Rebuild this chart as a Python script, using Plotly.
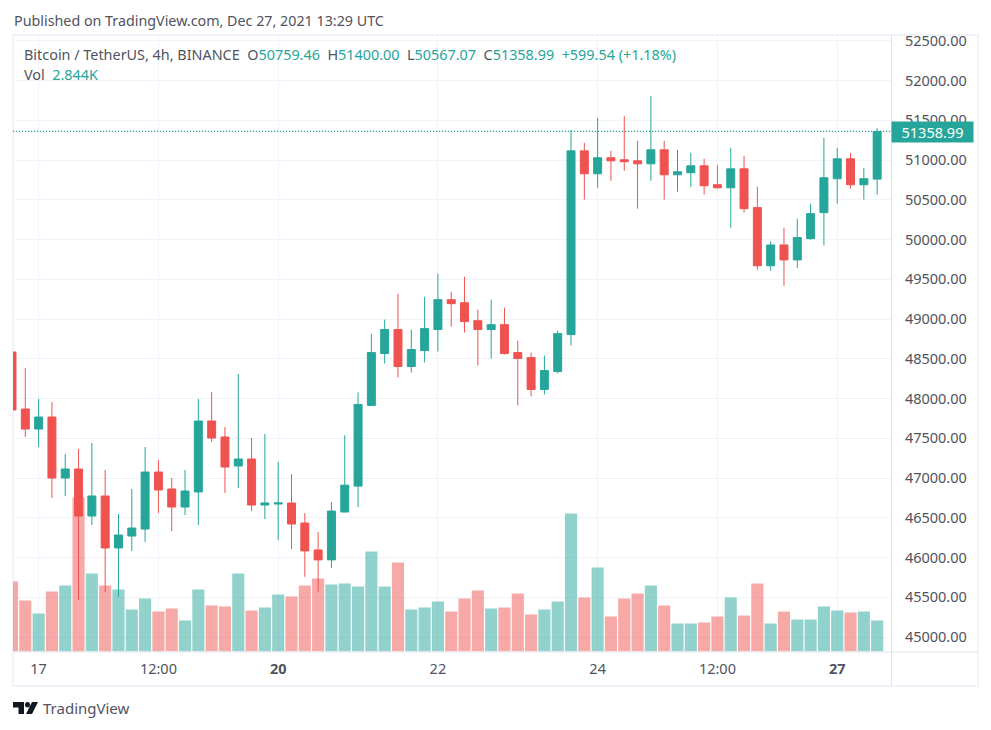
import plotly.graph_objects as go

W, H = 991, 730
L, R, T, B = 13, 891, 35, 651.5

idx = list(range(66))
opens = [48585,47868,47616,47767,47000,47113,46522,46774,46120,46270,46358,47075,46862,46635,46824,47717,47516,47151,47239,46660,46673,46685,
         46434,46095,45970,46572,46898,47913,48566,48867,48403,48603,48867,49243,49205,48979,48867,48929,48578,48515,48114,48340,
         48804,51115,50827,51028,51003,50990,50952,51128,50814,50840,50927,50689,50651,50889,50401,49670,49931,49743,50011,50338,50764,51015,50689,50759.46]
highs = [48585,48384,47994,47956,47302,47365,47440,47101,46547,46862,47390,47226,47000,47101,47994,48082,47642,48308,47503,47554,47201,47048,
         46559,46321,46697,47537,48076,48816,48992,49318,48867,49280,49569,49343,49531,49117,49243,49142,48729,48578,48540,48854,
         51379,51216,51529,51115,51554,51241,51805,51241,51128,51090,51015,50940,51153,51053,50664,49978,50149,50262,50451,51278,51153,51090,50902,51400]
lows = [47855,47516,47390,46748,46774,45465,46409,45566,45503,46082,46195,46560,46333,46535,46409,47453,46811,46874,46585,46484,46220,46108,
        45757,45568,45869,46572,46634,47913,48440,48265,48327,48453,48591,48904,48829,48415,48503,48553,47913,48026,48051,48315,
        48666,50501,50651,50739,50865,50388,50739,50501,50601,50664,50564,50639,50149,50338,49619,49606,49417,49643,49998,49924,50451,50639,50501,50567.07]
closes = [47855,47616,47767,47000,47113,46522,46774,46120,46283,46371,47075,46849,46635,46836,47717,47503,47138,47239,46660,46686,46686,46421,
          46083,45970,46584,46910,47926,48578,48867,48403,48616,48879,49243,49193,48967,48867,48929,48566,48503,48114,48352,48816,
          51115,50827,51028,50990,50978,50952,51128,50814,50852,50927,50676,50651,50889,50388,49670,49931,49743,50024,50325,50777,51015,50689,50764,51358.99]
volumes = [6422,4679,3486,5504,6055,14128,7156,6055,5688,3853,4862,3670,3945,2844,5688,4220,4128,7156,3761,4037,5229,5046,
           6055,6697,6147,6238,5963,9174,5963,8165,3853,4037,4587,3670,4862,5596,3945,4037,5321,3394,3853,4587,
           12660,4954,7706,3211,4862,5321,6055,4220,2569,2569,2660,3211,4954,3303,6238,2569,3670,2936,2936,4128,3761,3578,3670,2844]

tick_idx = [2, 11, 20, 32, 44, 53, 62]
tick_txt = ["17", "12:00", "<b>20</b>", "22", "24", "12:00", "<b>27</b>"]
price_ticks = [45000 + 500 * k for k in range(16)]
last_price = closes[-1]

UP, DOWN = "#26a69a", "#ef5350"
TEXT = "#131722"
GRID = "#f0f3fa"
BORDER = "#e0e3eb"
FONT = "Noto Sans"

px = lambda x: x / W
py = lambda y: 1 - y / H

vol_colors = ["rgba(38,166,154,0.5)" if c >= o else "rgba(239,83,80,0.5)" for o, c in zip(opens, closes)]

fig = go.Figure()
fig.add_bar(x=idx, y=volumes, marker=dict(color=vol_colors, line=dict(width=0)), yaxis="y", hoverinfo="skip")
fig.add_candlestick(x=idx, open=opens, high=highs, low=lows, close=closes, yaxis="y2",
                    increasing=dict(line=dict(color=UP, width=1), fillcolor=UP),
                    decreasing=dict(line=dict(color=DOWN, width=1), fillcolor=DOWN),
                    whiskerwidth=0)

def y_to_price(y):
    return 45000 + (637 - y) / 0.0795

def logo_path(points):
    return "M " + " L ".join(f"{px(a):.5f} {py(b):.5f}" for a, b in points) + " Z"

shapes = [
    dict(type="rect", xref="paper", yref="paper", x0=px(13), x1=px(978), y0=py(35), y1=py(686),
         line=dict(color=GRID, width=2), layer="below"),
    dict(type="line", xref="paper", yref="paper", x0=px(891.5), x1=px(891.5), y0=py(35), y1=py(686),
         line=dict(color=BORDER, width=1)),
    dict(type="line", xref="paper", yref="paper", x0=px(13), x1=px(978), y0=py(652), y1=py(652),
         line=dict(color=BORDER, width=1)),
    dict(type="line", xref="paper", yref="y2", x0=px(13), x1=px(891), y0=last_price, y1=last_price,
         line=dict(color=UP, width=1.2, dash="1.2px,1.8px")),
    dict(type="path", xref="paper", yref="paper", path=logo_path([(13,702),(24,702),(24,714),(18.5,714),(18.5,707.5),(13,707.5)]),
         fillcolor=TEXT, line=dict(width=0)),
    dict(type="path", xref="paper", yref="paper", path=logo_path([(32,702),(38,702),(32,714),(26,714)]),
         fillcolor=TEXT, line=dict(width=0)),
    dict(type="circle", xref="paper", yref="paper", x0=px(25), x1=px(30), y0=py(702), y1=py(707.5),
         fillcolor=TEXT, line=dict(width=0)),
]

def sp(t):
    return f'<span style="color:{UP}">{t}</span>'

ann = [
    dict(text="Published on TradingView.com, Dec 27, 2021 13:29 UTC", x=px(13), y=py(20),
         font=dict(size=14.3, color="#50535e")),
    dict(text="Bitcoin / TetherUS, 4h, BINANCE  O" + sp("50759.46") + "  H" + sp("51400.00") + "  L" + sp("50567.07")
              + "  C" + sp("51358.99") + "  " + sp("+599.54 (+1.18%)"), x=px(23), y=py(54),
         font=dict(size=14.4, color="#50535e")),
    dict(text="Vol  " + sp("2.844K"), x=px(23), y=py(75), font=dict(size=14.4, color="#50535e")),
    dict(text="TradingView", x=px(42), y=py(708), font=dict(size=15, color="#50535e")),
    dict(text="51358.99", x=px(891), y=py(132.5), font=dict(size=14.5, color="#ffffff"),
         bgcolor=UP, width=81, height=20, align="center"),
]
for a in ann:
    a.update(xref="paper", yref="paper", xanchor="left", yanchor="middle", showarrow=False)
    a.setdefault("borderpad", 0)

fig.update_layout(
    width=W, height=H, autosize=False, showlegend=False,
    paper_bgcolor="#ffffff", plot_bgcolor="#ffffff",
    margin=dict(l=0, r=0, t=0, b=0, autoexpand=False), boxgap=0.4, boxgroupgap=0, bargap=0.09,
    font=dict(family=FONT, size=14.5, color="#50535e"),
    shapes=shapes, annotations=ann,
    xaxis=dict(domain=[px(L), px(R)], range=[(L - 12) / 13.31, (R - 12) / 13.31],
               tickmode="array", tickvals=tick_idx, ticktext=tick_txt,
               showgrid=True, gridcolor=GRID, gridwidth=1, zeroline=False,
               ticks="outside", ticklen=4, tickcolor="rgba(0,0,0,0)",
               rangeslider=dict(visible=False), fixedrange=True),
    yaxis=dict(domain=[py(B), py(T)], range=[0, 2844 / 31 * (B - T)], showticklabels=False, showgrid=False,
               zeroline=False, fixedrange=True),
    yaxis2=dict(overlaying="y", side="right", anchor="x",
                range=[y_to_price(B), y_to_price(T)], tickmode="array", tickvals=price_ticks,
                ticktext=[f"{v:.2f}" for v in price_ticks], showgrid=True, gridcolor=GRID, gridwidth=1,
                zeroline=False, ticks="outside", ticklen=10, tickcolor="rgba(0,0,0,0)", fixedrange=True),
)

fig.write_html("out.html", config=dict(displayModeBar=False),
               post_script="document.body.style.margin='0';document.documentElement.style.overflow='hidden';")
